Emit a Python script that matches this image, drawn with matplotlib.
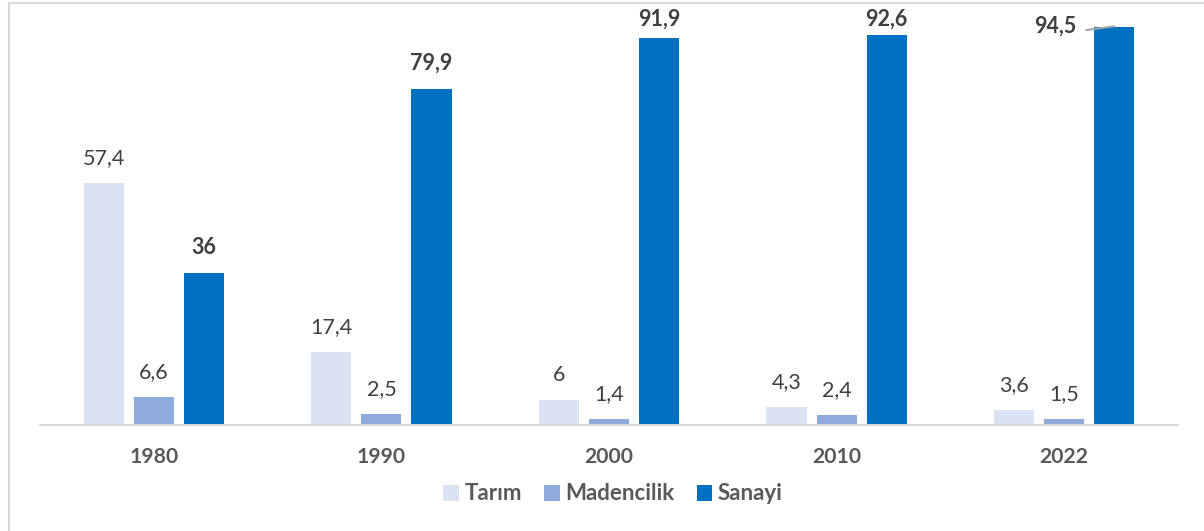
import matplotlib
matplotlib.use("Agg")
import matplotlib.pyplot as plt
from matplotlib.lines import Line2D
import numpy as np

years = ["1980", "1990", "2000", "2010", "2022"]
series_names = ["Tarım", "Madencilik", "Sanayi"]
tarim = [57.4, 17.4, 6, 4.3, 3.6]
madencilik = [6.6, 2.5, 1.4, 2.4, 1.5]
sanayi = [36, 79.9, 91.9, 92.6, 94.5]
colors = ["#DAE3F3", "#8FAADC", "#0070C0"]

def fmt(v):
    s = ("%g" % v)
    return s.replace(".", ",")

plt.rcParams['font.family'] = ['Lato', 'DejaVu Sans']

W, H = 1204, 531
DPI = 100
fig = plt.figure(figsize=(W / DPI, H / DPI), dpi=DPI)
ax = fig.add_axes([40 / W, (H - 425) / H, (1178 - 40) / W, (425 - 10) / H])
ax.set_xlim(-0.5, len(years) - 0.5)
ax.set_ylim(0, 415 / 4.21)

x = np.arange(len(years))
bw = 0.176
step = 0.22
text_col = "#404040"
data = [tarim, madencilik, sanayi]
label_fs = 15.5
gap_px = 15.0
min_label_bottom_from_top_px = 30.0  # labels cannot rise above this line

for i, (vals, name, c) in enumerate(zip(data, series_names, colors)):
    pos = x + (i - 1) * step
    ax.bar(pos, vals, width=bw, color=c, label=name, zorder=2)
    for j, (p, v) in enumerate(zip(pos, vals)):
        bold = (i == 2)
        if i == 2 and j == len(years) - 1:
            # label to the left with a leader line
            ax.text(p - 0.167, v + 0.3, fmt(v), ha="right", va="center",
                    fontsize=label_fs, fontweight="bold", color=text_col, zorder=5)
            ax.annotate("", xy=(p, v + 0.2), xytext=(p - 0.124, v - 0.7),
                        zorder=6,
                        arrowprops=dict(arrowstyle="-", color="#A6A6A6",
                                        lw=1.5, shrinkA=0, shrinkB=0))
        else:
            bar_top_disp = ax.transData.transform((p, v))[1]
            bar_top_from_top = H - bar_top_disp
            off = gap_px
            if bar_top_from_top - off < min_label_bottom_from_top_px:
                off = bar_top_from_top - min_label_bottom_from_top_px
            ax.annotate(fmt(v), xy=(p, v), xytext=(0, off * 72 / DPI),
                        textcoords="offset points", ha="center", va="bottom",
                        fontsize=label_fs, fontweight="bold" if bold else "normal",
                        color=text_col, annotation_clip=False)

ax.set_xticks(x)
ax.set_xticklabels(years, fontsize=15.2, fontweight="bold", color="#595959")
ax.tick_params(axis="x", length=0, pad=16)
ax.set_yticks([])
for s in ["top", "right", "left"]:
    ax.spines[s].set_visible(False)
ax.spines["bottom"].set_color("#D9D9D9")
ax.spines["bottom"].set_linewidth(1.5)
ax.spines["bottom"].set_zorder(3)

leg = fig.legend(loc="center", bbox_to_anchor=(613 / W, 1 - 494 / H), ncol=3,
                 frameon=False, fontsize=16, handlelength=0.7,
                 handleheight=0.7, handletextpad=0.25, columnspacing=1.0)
for t in leg.get_texts():
    t.set_color("#595959")
    t.set_fontweight("bold")

fig.add_artist(Line2D([9 / W, 1], [1 - 3 / H, 1 - 3 / H], color="#D9D9D9", lw=1.5,
                      transform=fig.transFigure))
fig.add_artist(Line2D([9 / W, 9 / W], [0, 1 - 3 / H], color="#D9D9D9", lw=1.5,
                      transform=fig.transFigure))

fig.savefig("out.png", dpi=DPI, facecolor="white")
